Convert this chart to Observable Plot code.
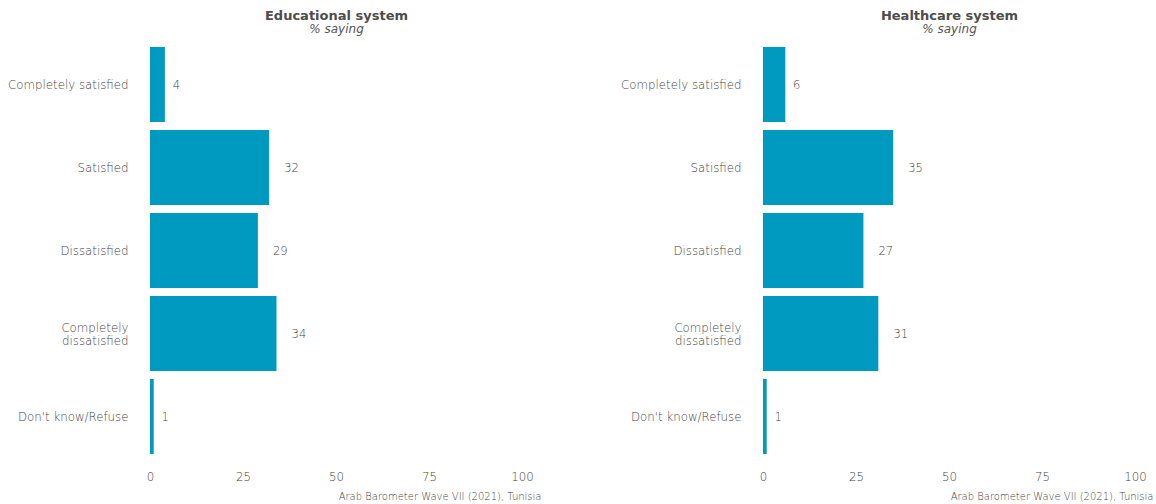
<!DOCTYPE html>
<html>
<head>
<meta charset="utf-8">
<script src="https://cdn.jsdelivr.net/npm/d3@7"></script>
<script src="https://cdn.jsdelivr.net/npm/@observablehq/plot@0.6"></script>
<style>
  html, body { margin: 0; padding: 0; background: #fff; }
  #chart { display: flex; flex-direction: row; width: 1156px; height: 504px; }
  #chart svg { flex: none; display: block; }
</style>
</head>
<body>
<div id="chart"></div>
<script>
const categories = ["Completely satisfied", "Satisfied", "Dissatisfied", "Completely dissatisfied", "Don't know/Refuse"];
const categoryLabels = ["Completely satisfied", "Satisfied", "Dissatisfied", "Completely\ndissatisfied", "Don't know/Refuse"];
const educationValues = [4, 32, 29, 34, 1];
const healthValues = [6, 35, 27, 31, 1];
const panelTitles = ["Educational system", "Healthcare system"];
const subtitleText = "% saying";
const captionText = "Arab Barometer Wave VII (2021), Tunisia";
const xTicks = [0, 25, 50, 75, 100];

const FONT = "'DejaVu Sans', sans-serif";
const LABEL_SIZE = 11.8;
const LABEL_WEIGHT = 300;
const BAR_COLOR = "#009ac0";
const TEXT_COLOR = "#444444";

const measureCtx = document.createElement("canvas").getContext("2d");

function panel(title, values, width, marginRight, captionDx) {
  const data = categories.map((c, i) => ({category: c, value: values[i]}));
  const labelOf = new Map(categories.map((c, i) => [c, categoryLabels[i]]));
  const svg = Plot.plot({
    width,
    height: 504,
    marginLeft: 150,
    marginRight,
    marginTop: 38,
    marginBottom: 42,
    style: {fontFamily: FONT, fontSize: LABEL_SIZE + "px", color: TEXT_COLOR, background: "white", overflow: "visible"},
    x: {domain: [0, 100], label: null},
    y: {domain: categories, padding: 0.1, label: null},
    marks: [
      Plot.barX(data, {x: "value", y: "category", fill: BAR_COLOR}),
      Plot.text(data, {x: "value", y: "category", text: d => String(d.value), textAnchor: "start",
        fill: TEXT_COLOR, fontSize: 11.5, fontWeight: LABEL_WEIGHT, ariaDescription: "values"}),
      Plot.axisX({ticks: xTicks, tickSize: 0, tickPadding: 10, label: null, fontSize: 11.8, fill: TEXT_COLOR, fontWeight: LABEL_WEIGHT}),
      Plot.axisY({tickSize: 0, tickPadding: 22, label: null, tickFormat: d => labelOf.get(d),
        fontSize: LABEL_SIZE, fill: TEXT_COLOR, fontWeight: LABEL_WEIGHT, lineHeight: 1.1}),
      Plot.text([title], {frameAnchor: "top", lineAnchor: "middle", dy: -23, fontWeight: "bold", fontSize: 13, fill: "#4d4d4d"}),
      Plot.text([subtitleText], {frameAnchor: "top", lineAnchor: "middle", dy: -9, fontStyle: "italic", fontSize: 12, fill: "#555555", fontWeight: LABEL_WEIGHT}),
      Plot.text([captionText], {frameAnchor: "bottom-right", lineAnchor: "middle", textAnchor: "end", dx: captionDx, dy: 34, fontSize: 10, fill: TEXT_COLOR, fontWeight: LABEL_WEIGHT})
    ]
  });
  // each value label sits one text-width beyond the end of its bar
  measureCtx.font = `${LABEL_WEIGHT} 11.5px ${FONT}`;
  const g = svg.querySelector('[aria-description="values"]');
  if (g) g.querySelectorAll("text").forEach(t => {
    t.setAttribute("dx", measureCtx.measureText(t.textContent).width.toFixed(1));
  });
  return svg;
}

const chart = document.getElementById("chart");
chart.append(panel(panelTitles[0], educationValues, 613, 91, 19));
chart.append(panel(panelTitles[1], healthValues, 543, 21, 18));
</script>
</body>
</html>
